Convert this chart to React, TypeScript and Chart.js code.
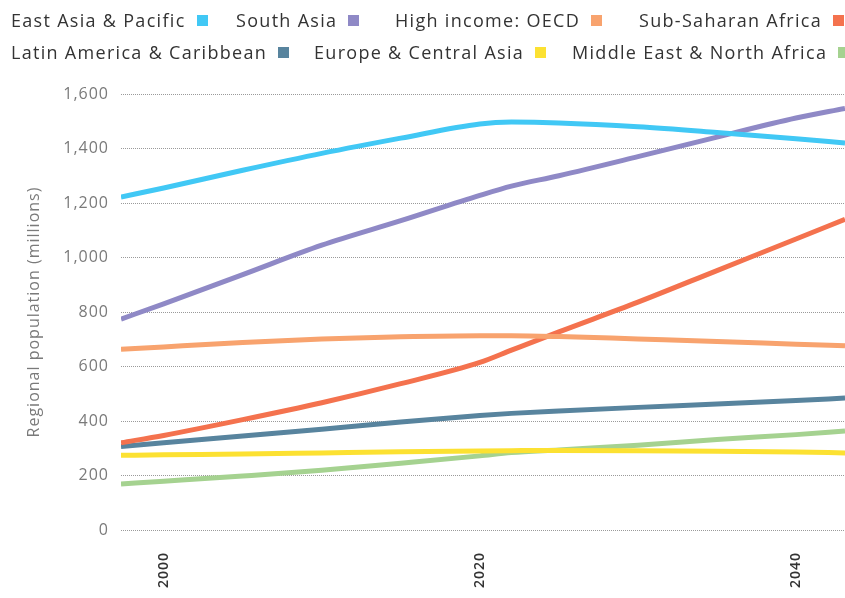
import React, { useEffect, useRef } from "react";
import { Chart, registerables } from "chart.js";

Chart.register(...registerables);

// ---- Data ----
const YEARS = [1997.3, 2000, 2005, 2010, 2015, 2020, 2022, 2025, 2030, 2035, 2040, 2043.1];

const EAST_ASIA_PACIFIC = [1222, 1255, 1320, 1382, 1438, 1490, 1497, 1494, 1480, 1459, 1436, 1420];
const SOUTH_ASIA = [774, 830, 937, 1045, 1135, 1228, 1262, 1300, 1370, 1442, 1512, 1547];
const HIGH_INCOME_OECD = [663, 672, 688, 701, 709, 713, 713, 710, 701, 692, 682, 676];
const SUB_SAHARAN_AFRICA = [320, 347, 405, 467, 537, 615, 660, 727, 836, 952, 1068, 1140];
const LATIN_AMERICA_CARIBBEAN = [306, 320, 345, 370, 396, 420, 428, 437, 450, 462, 475, 484];
const EUROPE_CENTRAL_ASIA = [274, 276, 279, 283, 287, 290, 291, 292, 291, 289, 286, 283];
const MIDDLE_EAST_NORTH_AFRICA = [169, 179, 198, 219, 245, 272, 284, 294, 311, 332, 350, 363];

const SERIES_NAMES = [
  "East Asia & Pacific",
  "South Asia",
  "High income: OECD",
  "Sub-Saharan Africa",
  "Latin America & Caribbean",
  "Europe & Central Asia",
  "Middle East & North Africa",
];
const SERIES_VALUES = [
  EAST_ASIA_PACIFIC,
  SOUTH_ASIA,
  HIGH_INCOME_OECD,
  SUB_SAHARAN_AFRICA,
  LATIN_AMERICA_CARIBBEAN,
  EUROPE_CENTRAL_ASIA,
  MIDDLE_EAST_NORTH_AFRICA,
];
const SERIES_COLORS = ["#41c8f5", "#8f89c6", "#f8a36e", "#f4724e", "#58849e", "#fce132", "#a5d290"];

const X_TICKS = [2000, 2020, 2040];
const Y_TICKS = [0, 200, 400, 600, 800, 1000, 1200, 1400, 1600];
const Y_TITLE = "Regional population (millions)";

const X_MIN = 1997.3;
const X_MAX = 2043.1;

// legend layout (rows of series indices)
const LEGEND_ROWS = [
  [0, 1, 2, 3],
  [4, 5, 6],
];
const LEGEND_LEFTS = [
  [11, 236, 395, 639],
  [11, 314, 572],
];

const FONT = "'Open Sans', 'DejaVu Sans', sans-serif";

const spacingPlugin = {
  id: "letterSpacing",
  beforeUpdate(chart: any) {
    chart.ctx.letterSpacing = "1px";
  },
  beforeDraw(chart: any) {
    chart.ctx.letterSpacing = "1px";
  },
};

export default function App() {
  const canvasRef = useRef<HTMLCanvasElement | null>(null);

  useEffect(() => {
    if (!canvasRef.current) return;
    const datasets = SERIES_NAMES.map((name, i) => ({
      label: name,
      data: YEARS.map((x, j) => ({ x, y: SERIES_VALUES[i][j] })),
      borderColor: SERIES_COLORS[i],
      backgroundColor: SERIES_COLORS[i],
      borderWidth: 5,
      pointRadius: 0,
      pointHoverRadius: 0,
      fill: false,
      cubicInterpolationMode: "monotone" as const,
    }));

    const chart = new Chart(canvasRef.current, {
      type: "line",
      data: { datasets },
      plugins: [spacingPlugin],
      options: {
        animation: false,
        responsive: false,
        maintainAspectRatio: false,
        layout: { padding: { top: 94, left: 0, right: 0, bottom: 0 } },
        plugins: {
          legend: { display: false },
          tooltip: { enabled: false },
        },
        scales: {
          x: {
            type: "linear",
            min: X_MIN,
            max: X_MAX,
            grid: { display: false, drawTicks: false },
            border: { display: false },
            afterBuildTicks: (scale: any) => {
              scale.ticks = X_TICKS.map((v) => ({ value: v }));
            },
            afterFit: (scale: any) => {
              scale.height = 68;
            },
            ticks: {
              minRotation: 90,
              maxRotation: 90,
              padding: 22,
              color: "#333333",
              font: { family: FONT, size: 14, weight: "600" },
              callback: (v: any) => String(v),
            },
          },
          y: {
            min: 0,
            max: 1600,
            afterBuildTicks: (scale: any) => {
              scale.ticks = Y_TICKS.map((v) => ({ value: v }));
            },
            afterFit: (scale: any) => {
              scale.width = 121;
            },
            grid: { color: "#9a9a9a", lineWidth: 1, drawTicks: false },
            border: { display: false, dash: [1, 1] },
            ticks: {
              padding: 12,
              color: "#7a7a7a",
              font: { family: FONT, size: 16 },
              callback: (v: any) => Number(v).toLocaleString("en-US"),
            },
            title: {
              display: true,
              text: Y_TITLE,
              color: "#7a7a7a",
              font: { family: FONT, size: 16 },
              padding: { top: 25, bottom: 0 },
            },
          },
        },
      },
    });
    return () => chart.destroy();
  }, []);

  return (
    <div
      style={{
        position: "fixed",
        left: 0,
        top: 0,
        width: 845,
        height: 598,
        background: "#ffffff",
        overflow: "hidden",
      }}
    >
      <canvas ref={canvasRef} width={845} height={598} style={{ position: "absolute", left: 0, top: 0 }} />
      {LEGEND_ROWS.map((row, r) =>
        row.map((idx, k) => (
          <div
            key={idx}
            style={{
              position: "absolute",
              left: LEGEND_LEFTS[r][k],
              top: r === 0 ? 8 : 40,
              height: 24,
              display: "flex",
              alignItems: "center",
              whiteSpace: "nowrap",
              fontFamily: FONT,
              fontSize: 18,
              letterSpacing: "1.3px",
              color: "#333333",
            }}
          >
            <span>{SERIES_NAMES[idx]}</span>
            <span
              style={{
                display: "inline-block",
                width: 11,
                height: 11,
                marginLeft: 11,
                background: SERIES_COLORS[idx],
              }}
            />
          </div>
        ))
      )}
    </div>
  );
}
